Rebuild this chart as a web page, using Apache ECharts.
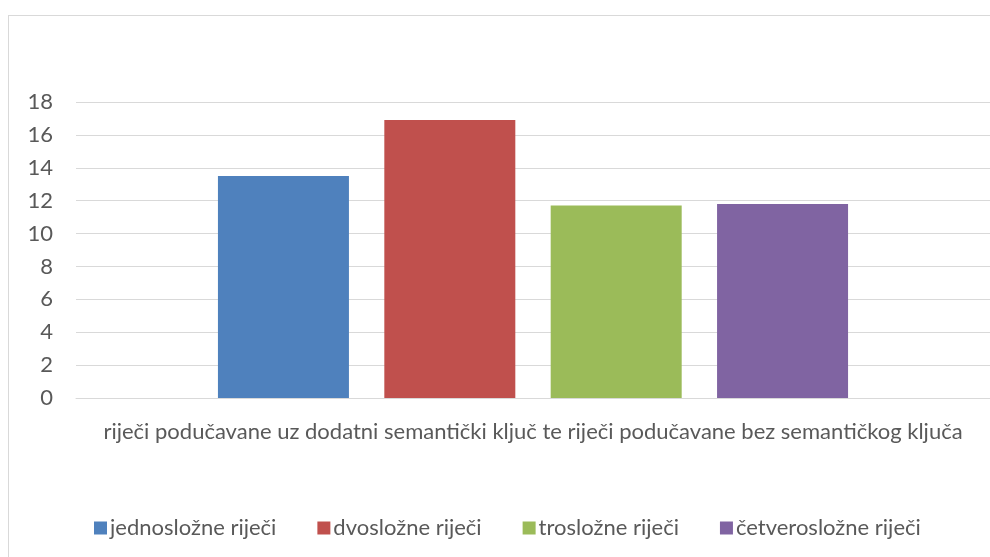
<!DOCTYPE html>
<html>
<head>
<meta charset="utf-8">
<script src="https://cdn.jsdelivr.net/npm/echarts@6/dist/echarts.min.js"></script>
<style>
  html, body { margin: 0; padding: 0; background: #fff; overflow: hidden; }
  #frame {
    position: absolute; left: 8px; top: 15px; width: 1000px; height: 560px;
    border: 1px solid #d9d9d9; box-sizing: border-box;
  }
  #chart { position: absolute; left: 0; top: 0; width: 990px; height: 557px; }
</style>
</head>
<body>
<div id="frame"></div>
<div id="chart"></div>
<script>
const categories = ['riječi podučavane uz dodatni semantički ključ te riječi podučavane bez semantičkog ključa']
const seriesNames = ['jednosložne riječi', 'dvosložne riječi', 'trosložne riječi', 'četverosložne riječi']
const seriesValues = [[13.5], [16.9], [11.7], [11.8]]
const seriesColors = ['#4f81bd', '#c0504d', '#9bbb59', '#8064a2']

const textColor = '#595959'
const fontFamily = 'Lato, "Open Sans", sans-serif'

const chart = echarts.init(document.getElementById('chart'))

const series = seriesNames.map((name, i) => ({
  name,
  type: 'bar',
  data: seriesValues[i],
  barWidth: 131,
  barGap: '27%',
  itemStyle: { color: seriesColors[i] },
}))

chart.setOption({
  animation: false,
  textStyle: { fontFamily },
  legend: {
    top: 512,
    left: 94,
    padding: [5, 0],
    icon: 'rect',
    itemWidth: 13,
    itemHeight: 13,
    itemGap: 41,
    textStyle: { color: textColor, fontSize: 22, fontFamily, padding: [0, 0, 0, -2] },
    data: seriesNames,
  },
  grid: { left: 76, right: 0, top: 102, bottom: 159 },
  xAxis: {
    type: 'category',
    data: categories,
    axisLine: { show: true, lineStyle: { color: '#d9d9d9', width: 1 } },
    axisTick: { show: false },
    axisLabel: { color: textColor, fontSize: 22, margin: 23, fontFamily },
  },
  yAxis: {
    type: 'value',
    min: 0,
    max: 18,
    interval: 2,
    axisLine: { show: false },
    axisTick: { show: false },
    axisLabel: { color: textColor, fontSize: 22, margin: 23, fontFamily },
    splitLine: { lineStyle: { color: '#d9d9d9', width: 1 } },
  },
  series,
})
</script>
</body>
</html>
